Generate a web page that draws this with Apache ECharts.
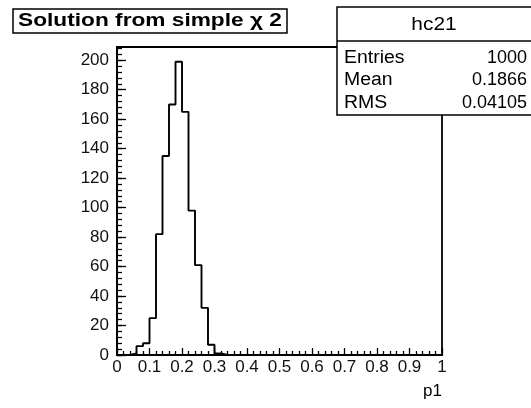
<!DOCTYPE html>
<html>
<head>
<meta charset="utf-8">
<script src="https://cdn.jsdelivr.net/npm/echarts@6/dist/echarts.min.js"></script>
<style>
html,body{margin:0;padding:0;background:#fff;}
#chart{width:531px;height:408px;}
</style>
</head>
<body>
<div id="chart"></div>
<script>
// Histogram hc21: 50 bins of width 0.02 on [0, 1]
const binLow = 0, binHigh = 1, binWidth = 0.02;
const counts = [
  0, 0, 1, 6, 8, 25, 82, 135, 170, 199,
  165, 98, 61, 32, 7, 1, 0, 0, 0, 0,
  0, 0, 0, 0, 0, 0, 0, 0, 0, 0,
  0, 0, 0, 0, 0, 0, 0, 0, 0, 0,
  0, 0, 0, 0, 0, 0, 0, 0, 0, 0
];
const xTicks = ['0', '0.1', '0.2', '0.3', '0.4', '0.5', '0.6', '0.7', '0.8', '0.9', '1'];
const yMax = 209;
const titleText = 'Solution from simple \u03c7 2';
const statsName = 'hc21';
const statsLabels = ['Entries', 'Mean', 'RMS'];
const statsValues = ['1000', '0.1866', '0.04105'];

// step outline: one point per bin's low edge, closed at the high edge
const stepData = counts.map((c, i) => [binLow + i * binWidth, c]);
stepData.push([binHigh, 0]);

const FONT = '"Liberation Sans", Arial, Helvetica, sans-serif';
const chart = echarts.init(document.getElementById('chart'));

// statistics box in the top-right corner
const statsGraphics = [];
const boxL = 337, boxT = 7, boxR = 531, boxB = 115, headB = 41;
statsGraphics.push({
  type: 'rect', shape: {x: boxL, y: boxT, width: boxR - boxL + 2, height: boxB - boxT},
  style: {fill: '#fff', stroke: '#000', lineWidth: 1.5}, z: 10
});
statsGraphics.push({
  type: 'line', shape: {x1: boxL, y1: headB, x2: boxR, y2: headB},
  style: {stroke: '#000', lineWidth: 1.5}, z: 11
});
statsGraphics.push({
  type: 'text', x: (boxL + boxR) / 2, y: (boxT + headB) / 2 + 1, z: 11, scaleX: 1.1,
  style: {text: statsName, font: '19px ' + FONT, fill: '#000', align: 'center', verticalAlign: 'middle'}
});
statsLabels.forEach((lab, i) => {
  const cy = 58 + i * 22.5;
  statsGraphics.push({
    type: 'text', x: 344, y: cy, z: 11, scaleX: 1.08,
    style: {text: lab, font: '18px ' + FONT, fill: '#000', align: 'left', verticalAlign: 'middle'}
  });
  statsGraphics.push({
    type: 'text', x: 527, y: cy, z: 11,
    style: {text: statsValues[i], font: '18px ' + FONT, fill: '#000', align: 'right', verticalAlign: 'middle'}
  });
});

chart.setOption({
  animation: false,
  backgroundColor: '#fff',
  grid: {
    left: 117, right: 89, top: 47, bottom: 53,
    show: true, borderColor: '#000', borderWidth: 1.8, backgroundColor: 'transparent'
  },
  xAxis: {
    type: 'value', min: binLow, max: binHigh, interval: 0.1,
    name: 'p1', nameLocation: 'end', nameGap: 0,
    nameTextStyle: {fontFamily: FONT, fontSize: 17, color: '#000', align: 'right', verticalAlign: 'top', padding: [28, 0, 0, 0]},
    axisLine: {show: true, onZero: false, lineStyle: {color: '#000', width: 1.8}},
    axisTick: {show: true, inside: true, length: 7, lineStyle: {color: '#000', width: 1.3}},
    minorTick: {show: true, splitNumber: 5, length: 4, lineStyle: {color: '#000', width: 1.3}},
    splitLine: {show: false},
    axisLabel: {
      fontFamily: FONT, fontSize: 17, color: '#111', margin: 4,
      formatter: (v) => xTicks[Math.round(v * 10)]
    }
  },
  yAxis: [{
    type: 'value', min: 0, max: yMax, interval: 20,
    axisLine: {show: true, onZero: false, lineStyle: {color: '#000', width: 1.8}},
    axisTick: {show: true, inside: true, length: 9, lineStyle: {color: '#000', width: 1.3}},
    splitLine: {show: false},
    axisLabel: {fontFamily: FONT, fontSize: 17, color: '#111', margin: 8, showMaxLabel: false,
      formatter: (v) => (v % 20 === 0 ? String(v) : '')}
  }, {
    // minor ticks every 4 entries along the left edge
    type: 'value', min: 0, max: yMax, interval: 4, position: 'left',
    axisLine: {show: false},
    axisTick: {show: true, inside: true, length: 5, lineStyle: {color: '#000', width: 1.3}},
    axisLabel: {show: false},
    splitLine: {show: false}
  }],
  series: [{
    type: 'line', step: 'end', data: stepData, xAxisIndex: 0, yAxisIndex: 0,
    symbol: 'none', lineStyle: {color: '#000', width: 1.9}, z: 3
  }],
  graphic: [
    {
      type: 'rect', shape: {x: 13, y: 9, width: 274, height: 24},
      style: {fill: '#fff', stroke: '#000', lineWidth: 1.5}, z: 10
    },
    {
      type: 'text', x: 150, y: 21.5, z: 11, scaleX: 1.26,
      style: {text: titleText, font: 'bold 18px ' + FONT, fill: '#000', align: 'center', verticalAlign: 'middle'}
    }
  ].concat(statsGraphics)
});
</script>
</body>
</html>
